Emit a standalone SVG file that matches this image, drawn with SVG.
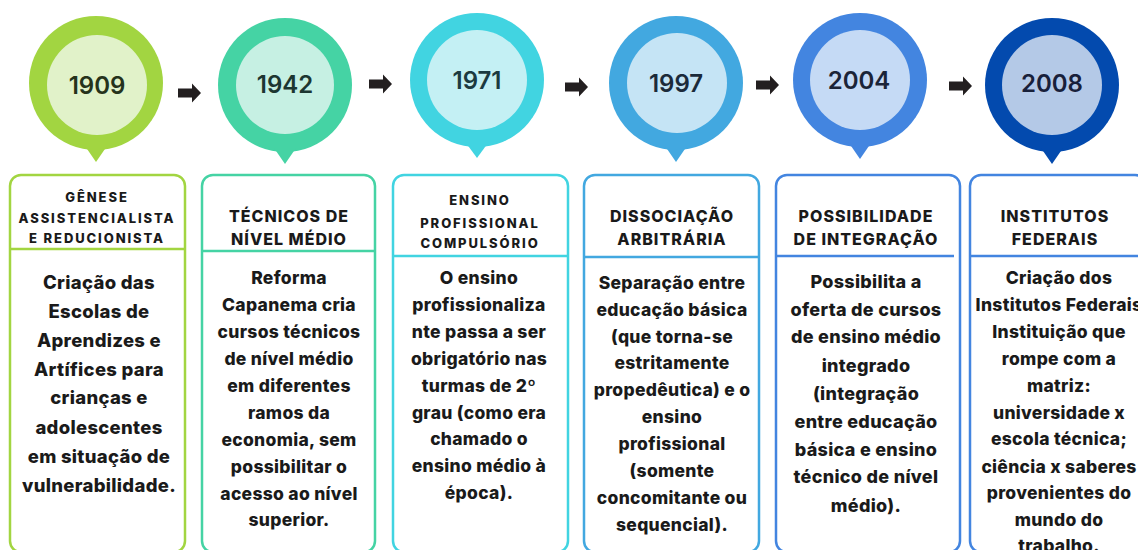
<svg xmlns="http://www.w3.org/2000/svg" width="1138" height="550" viewBox="0 0 1138 550">
<defs>
<style>
.bg{fill:#ffffff}
.yr{font-family:Inter,"Liberation Sans",sans-serif;font-size:24px;font-weight:600;text-anchor:middle}
.hs{font-family:Inter,"Liberation Sans",sans-serif;font-size:13px;font-weight:800;letter-spacing:1.9px;text-anchor:middle;fill:#1a1a1a}
.hl{font-family:Inter,"Liberation Sans",sans-serif;font-size:16px;font-weight:800;letter-spacing:1px;text-anchor:middle;fill:#1a1a1a}
.bd{font-family:Inter,"Liberation Sans",sans-serif;font-size:17.5px;font-weight:800;letter-spacing:0.3px;text-anchor:middle;fill:#1a1a1a}
.box{fill:#ffffff;stroke-width:2.5}
.div{stroke-width:2.5}
.arrow{fill:#231f20}
</style>
</defs>
<rect class="bg" x="0" y="0" width="1138" height="550"/>

<g id="connectors">
<path class="arrow" d="M178,88.5 h14 v-5 l9,9.5 l-9,9.5 v-5 h-14 z"/>
<path class="arrow" d="M369,79.5 h14 v-5 l9,9.5 l-9,9.5 v-5 h-14 z"/>
<path class="arrow" d="M565,82.5 h14 v-5 l9,9.5 l-9,9.5 v-5 h-14 z"/>
<path class="arrow" d="M756,80.5 h14 v-5 l9,9.5 l-9,9.5 v-5 h-14 z"/>
<path class="arrow" d="M949,81.5 h14 v-5 l9,9.5 l-9,9.5 v-5 h-14 z"/>
</g>

<g id="node-1909">
<circle cx="96" cy="83" r="67" fill="#a2d541"/>
<polygon points="85,146 107,146 96,162" fill="#a2d541"/>
<circle cx="97" cy="85" r="50" fill="#e1f2c9"/>
<text class="yr" x="97" y="94" fill="#25331b">1909</text>
<rect class="box" x="10" y="175" width="175" height="377" rx="11" stroke="#a2d541"/>
<line class="div" x1="10" y1="249" x2="185" y2="249" stroke="#a2d541"/>
<text class="hs" x="97" y="202">GÊNESE</text>
<text class="hs" x="97" y="223">ASSISTENCIALISTA</text>
<text class="hs" x="97" y="243">E REDUCIONISTA</text>
<g class="bd" style="font-size:18.5px">
<text x="99" y="289">Criação das</text>
<text x="99" y="318">Escolas de</text>
<text x="99" y="347">Aprendizes e</text>
<text x="99" y="376">Artífices para</text>
<text x="99" y="404">crianças e</text>
<text x="99" y="434">adolescentes</text>
<text x="99" y="463">em situação de</text>
<text x="99" y="492">vulnerabilidade.</text>
</g>
</g>

<g id="node-1942">
<circle cx="285" cy="85" r="67" fill="#45d3a4"/>
<polygon points="274,148 296,148 285,164" fill="#45d3a4"/>
<circle cx="285" cy="85" r="49" fill="#c6f0e3"/>
<text class="yr" x="285" y="93" fill="#1c3631">1942</text>
<rect class="box" x="202" y="175" width="173" height="377" rx="11" stroke="#45d3a4"/>
<line class="div" x1="202" y1="251" x2="375" y2="251" stroke="#45d3a4"/>
<text class="hl" x="289" y="222">TÉCNICOS DE</text>
<text class="hl" x="289" y="245">NÍVEL MÉDIO</text>
<g class="bd">
<text x="289" y="284">Reforma</text>
<text x="289" y="311">Capanema cria</text>
<text x="289" y="338">cursos técnicos</text>
<text x="289" y="365">de nível médio</text>
<text x="289" y="392">em diferentes</text>
<text x="289" y="419">ramos da</text>
<text x="289" y="446">economia, sem</text>
<text x="289" y="473">possibilitar o</text>
<text x="289" y="500">acesso ao nível</text>
<text x="289" y="526">superior.</text>
</g>
</g>

<g id="node-1971">
<circle cx="477" cy="80" r="67" fill="#41d4e1"/>
<polygon points="466,143 488,143 477,158" fill="#41d4e1"/>
<circle cx="477" cy="80" r="50" fill="#c4f0f4"/>
<text class="yr" x="477" y="89" fill="#1b3a40">1971</text>
<rect class="box" x="393" y="175" width="175" height="377" rx="11" stroke="#41d4e1"/>
<line class="div" x1="393" y1="256" x2="568" y2="256" stroke="#41d4e1"/>
<text class="hs" x="480" y="205">ENSINO</text>
<text class="hs" x="480" y="227.5">PROFISSIONAL</text>
<text class="hs" x="480" y="247.5">COMPULSÓRIO</text>
<g class="bd">
<text x="479" y="284">O ensino</text>
<text x="479" y="311">profissionaliza</text>
<text x="479" y="338">nte passa a ser</text>
<text x="479" y="365">obrigatório nas</text>
<text x="479" y="392">turmas de 2º</text>
<text x="479" y="419">grau (como era</text>
<text x="479" y="445">chamado o</text>
<text x="479" y="472">ensino médio à</text>
<text x="479" y="499">época).</text>
</g>
</g>

<g id="node-1997">
<circle cx="676" cy="83" r="67" fill="#42a8e0"/>
<polygon points="665,146 687,146 676,162" fill="#42a8e0"/>
<circle cx="677" cy="83" r="50" fill="#c5e4f5"/>
<text class="yr" x="676" y="92" fill="#1b2a3a">1997</text>
<rect class="box" x="584" y="175" width="175" height="377" rx="11" stroke="#42a8e0"/>
<line class="div" x1="584" y1="257" x2="759" y2="257" stroke="#42a8e0"/>
<text class="hl" x="672" y="222">DISSOCIAÇÃO</text>
<text class="hl" x="672" y="245">ARBITRÁRIA</text>
<g class="bd">
<text x="672" y="289">Separação entre</text>
<text x="672" y="316">educação básica</text>
<text x="672" y="343">(que torna-se</text>
<text x="672" y="369">estritamente</text>
<text x="672" y="396">propedêutica) e o</text>
<text x="672" y="423">ensino</text>
<text x="672" y="450">profissional</text>
<text x="672" y="477">(somente</text>
<text x="672" y="504">concomitante ou</text>
<text x="672" y="531">sequencial).</text>
</g>
</g>

<g id="node-2004">
<circle cx="860" cy="80" r="67" fill="#4385e0"/>
<polygon points="849,143 871,143 860,159" fill="#4385e0"/>
<circle cx="860" cy="80" r="50" fill="#c5daf5"/>
<text class="yr" x="859" y="89" fill="#1b2438">2004</text>
<rect class="box" x="776" y="175" width="184" height="377" rx="11" stroke="#4385e0"/>
<line class="div" x1="776" y1="256" x2="954" y2="256" stroke="#4385e0"/>
<text class="hl" x="866" y="222">POSSIBILIDADE</text>
<text class="hl" x="866" y="245">DE INTEGRAÇÃO</text>
<g class="bd" style="font-size:18px">
<text x="866" y="288">Possibilita a</text>
<text x="866" y="316">oferta de cursos</text>
<text x="866" y="343">de ensino médio</text>
<text x="866" y="372">integrado</text>
<text x="866" y="400">(integração</text>
<text x="866" y="428">entre educação</text>
<text x="866" y="456">básica e ensino</text>
<text x="866" y="483">técnico de nível</text>
<text x="866" y="512">médio).</text>
</g>
</g>

<g id="node-2008">
<circle cx="1052" cy="85" r="67" fill="#034aae"/>
<polygon points="1041,148 1063,148 1052,164" fill="#034aae"/>
<circle cx="1052" cy="85" r="50" fill="#b4c9e7"/>
<text class="yr" x="1052" y="92" fill="#18203a">2008</text>
<rect class="box" x="970" y="175" width="176" height="377" rx="11" stroke="#4385e0"/>
<line class="div" x1="970" y1="256" x2="1146" y2="256" stroke="#4385e0"/>
<text class="hl" x="1055" y="222">INSTITUTOS</text>
<text class="hl" x="1055" y="245">FEDERAIS</text>
<g class="bd">
<text x="1059" y="284">Criação dos</text>
<text x="1059" y="311">Institutos Federais</text>
<text x="1059" y="338">Instituição que</text>
<text x="1059" y="365">rompe com a</text>
<text x="1059" y="392">matriz:</text>
<text x="1059" y="419">universidade x</text>
<text x="1059" y="445">escola técnica;</text>
<text x="1059" y="473">ciência x saberes</text>
<text x="1059" y="499">provenientes do</text>
<text x="1059" y="526">mundo do</text>
<text x="1059" y="552">trabalho.</text>
</g>
</g>
</svg>
